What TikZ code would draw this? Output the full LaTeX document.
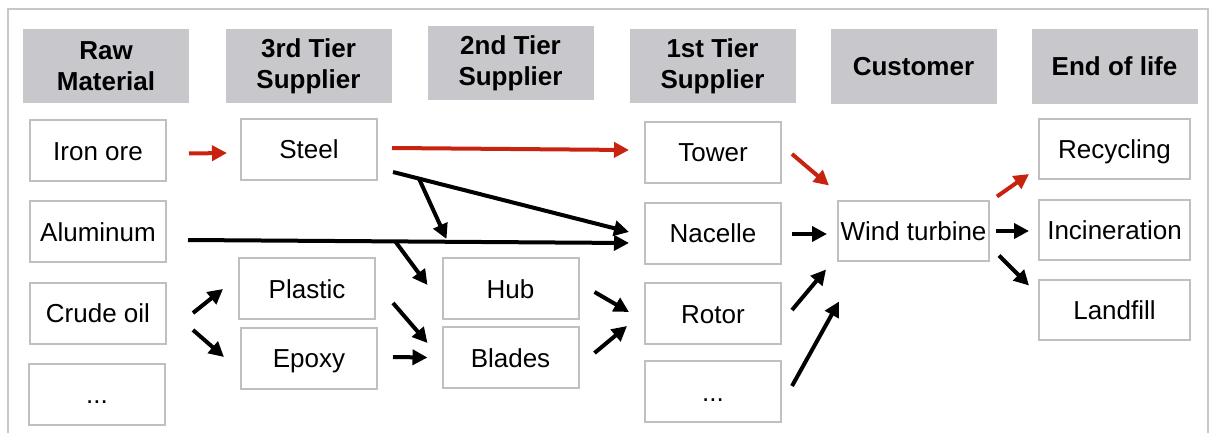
\documentclass[tikz,border=0pt]{standalone}
\usepackage{fontspec}
\setmainfont{Liberation Sans}
\usetikzlibrary{calc,arrows.meta}

\definecolor{headgray}{RGB}{200,200,204}
\definecolor{boxgray}{RGB}{192,192,192}
\definecolor{framegray}{RGB}{200,200,200}
\definecolor{flowred}{RGB}{200,35,15}

\begin{document}
\begin{tikzpicture}[x=0.5pt,y=-0.5pt]
\tikzset{
    head/.style={fill=headgray, minimum width=83pt, minimum height=37pt,
        align=center, font=\fontsize{13}{15.5}\selectfont\bfseries},
    item/.style={draw=boxgray, line width=1pt, fill=white, minimum width=68pt,
        minimum height=30.5pt, text height=9.5pt, text depth=0pt,
        font=\fontsize{13}{15.5}\selectfont},
    wide item/.style={item, minimum width=75.5pt, minimum height=30pt},
    flow/.style={line width=2pt, -{Triangle[length=7.5pt,width=7.5pt]}},
    red flow/.style={flow, color=flowred}}

\useasboundingbox (0,0) rectangle (1213,433);
\draw[framegray, line width=1pt] (8,433)--(8,9)--(1208,9)--(1208,433);

% column heads
\node[head] (hraw)    at (106,66)    {Raw\\Material};
\node[head] (hthird)  at (308.5,66)  {3rd Tier\\Supplier};
\node[head] (hsecond) at (510.5,63.5) {2nd Tier\\Supplier};
\node[head] (hfirst)  at (712.5,66)  {1st Tier\\Supplier};
\node[head] (hcust)   at (913.5,66.5) {Customer};
\node[head] (hend)    at (1114.5,66.5) {End of life};

% raw material
\node[item] (iron)     at (98,150.5) {Iron ore};
\node[item] (alu)      at (98,231.5) {Aluminum};
\node[item] (crude)    at (98,313)   {Crude oil};
\node[item] (rawdots)  at (97,394)   {...};

% 3rd and 2nd tier
\node[item] (steel)    at (309,149)   {Steel};
\node[item] (plastic)  at (307,288.5) {Plastic};
\node[item] (epoxy)    at (309,358)   {Epoxy};
\node[item] (hub)      at (510.5,288.5) {Hub};
\node[item] (blades)   at (510.5,357.5) {Blades};

% 1st tier
\node[item] (tower)    at (713,152)   {Tower};
\node[item] (nacelle)  at (713,233)   {Nacelle};
\node[item] (rotor)    at (713,313.5) {Rotor};
\node[item] (tierdots) at (713,391.5) {...};

% customer and end of life
\node[wide item, inner sep=1pt] (turbine) at (913.5,230.5) {Wind turbine};
\node[wide item] (recycling)    at (1114.5,149)   {Recycling};
\node[wide item] (incineration) at (1114.5,229.5) {Incineration};
\node[wide item] (landfill)     at (1114.5,309.5) {Landfill};

% material flows
\draw[red flow] ($(iron.east)+(22,3)$) -- ($(steel.west)+(-13,4)$);
\draw[red flow] ($(steel.east)+(14,-1)$) -- ($(tower.west)+(-15,-2)$);
\draw[flow] ($(steel.east)+(15,23)$) -- coordinate[pos=0.11] (sb)
    ($(nacelle.west)+(-15,-1)$);
\draw[flow] (sb) -- ($(hub.north)+(-64,-18)$);
\draw[flow] ($(alu.east)+(21,8.5)$) -- coordinate[pos=0.47] (ab)
    ($(nacelle.west)+(-15,10)$);
\draw[flow] (ab) -- ($(hub.west)+(-14,-3.5)$);
\draw[flow] ($(crude.east)+(26,0)$) -- ($(plastic.west)+(-15,0.5)$);
\draw[flow] ($(crude.east)+(26,17)$) -- ($(epoxy.west)+(-16,-1)$);
\draw[flow] ($(plastic.east)+(17,14.5)$) -- ($(blades.west)+(-14,-14.5)$);
\draw[flow] ($(epoxy.east)+(15,-1)$) -- ($(blades.west)+(-14,0)$);
\draw[flow] ($(hub.east)+(15,3.5)$) -- ($(rotor.west)+(-15,-1.5)$);
\draw[flow] ($(blades.east)+(15,-4.5)$) -- ($(rotor.west)+(-17,12.5)$);

% into the turbine
\draw[red flow] ($(tower.east)+(10,2)$) -- ($(turbine.north west)+(-8,-14)$);
\draw[flow] ($(nacelle.east)+(10,1)$) -- ($(turbine.west)+(-10,3.5)$);
\draw[flow] ($(rotor.east)+(10,-3.5)$) -- ($(turbine.south west)+(-11,8)$);
\draw[flow] ($(tierdots.east)+(10,-5.5)$) -- ($(turbine.south west)+(2,40)$);

% end of life
\draw[red flow] ($(turbine.north east)+(7,-3)$) -- ($(recycling.south west)+(-9,-6)$);
\draw[flow] ($(turbine.east)+(6,0.5)$) -- ($(incineration.west)+(-9,1.5)$);
\draw[flow] ($(turbine.south east)+(9,-6)$) -- ($(landfill.north west)+(-9,7)$);

\end{tikzpicture}
\end{document}
